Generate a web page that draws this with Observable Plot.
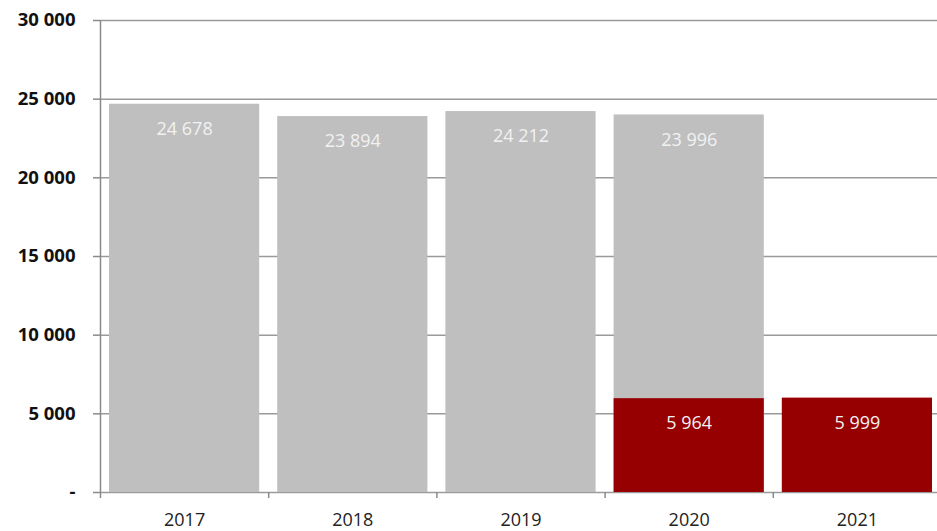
<!DOCTYPE html>
<html>
<head>
<meta charset="utf-8">
<script src="https://cdn.jsdelivr.net/npm/d3@7"></script>
<script src="https://cdn.jsdelivr.net/npm/@observablehq/plot@0.6"></script>
<style>
  html, body { margin: 0; padding: 0; background: #fff; overflow: hidden; }
  #chart svg { display: block; max-width: none !important; }
</style>
</head>
<body>
<div id="chart"></div>
<script>
const years = [2017, 2018, 2019, 2020, 2021];
const greyValues = [24678, 23894, 24212, 23996, null];
const redValues = [null, null, null, 5964, 5999];
const yTicks = [0, 5000, 10000, 15000, 20000, 25000, 30000];

const fmt = v => v === 0 ? "-" : d3.format(",")(v).replace(/,/g, " ");

const greyData = years.map((y, i) => ({year: y, value: greyValues[i]})).filter(d => d.value != null);
const redData = years.map((y, i) => ({year: y, value: redValues[i]})).filter(d => d.value != null);
const boundaries = [...years.map(y => y - 0.5), years[years.length - 1] + 0.5];

const font = "'Open Sans', sans-serif";

const chart = Plot.plot({
  width: 941,
  height: 531,
  marginLeft: 100,
  marginRight: 0,
  marginTop: 20,
  marginBottom: 39,
  style: {fontFamily: font, background: "#fff", maxWidth: "none"},
  x: {type: "linear", domain: [years[0] - 0.5, years[years.length - 1] + 0.5], label: null},
  y: {domain: [0, 30000], label: null},
  marks: [
    Plot.ruleY(yTicks, {y: d => d, stroke: "#9a9a9a", strokeWidth: 1.5}),
    Plot.rectY(greyData, {x1: d => d.year - 0.5, x2: d => d.year + 0.5, y: "value", fill: "#bfbfbf", insetLeft: 9, insetRight: 9}),
    Plot.rectY(redData, {x1: d => d.year - 0.5, x2: d => d.year + 0.5, y: "value", fill: "#960000", insetLeft: 9, insetRight: 9}),
    Plot.text(greyData, {x: "year", y: "value", text: d => fmt(d.value), dy: 25, fill: "#f2f2f2", fontSize: 18}),
    Plot.text(redData, {x: "year", y: "value", text: d => fmt(d.value), dy: 25, fill: "#f2f2f2", fontSize: 18}),
    Plot.ruleX([years[0] - 0.5], {stroke: "#8a8a8a", strokeWidth: 1.5}),
    Plot.axisY(yTicks, {label: null, tickFormat: fmt, tickSize: 7, tickPadding: 18, stroke: "#8a8a8a", fill: "#111", fontSize: 18.5, fontWeight: "bold", strokeWidth: 1.5}),
    Plot.axisX(boundaries, {label: null, tickFormat: () => "", tickSize: 6, stroke: "#8a8a8a", strokeWidth: 1.5}),
    Plot.axisX(years, {label: null, tickFormat: d => String(d), tickSize: 0, tickPadding: 21, fill: "#222", fontSize: 18})
  ]
});
document.getElementById("chart").appendChild(chart);
</script>
</body>
</html>
